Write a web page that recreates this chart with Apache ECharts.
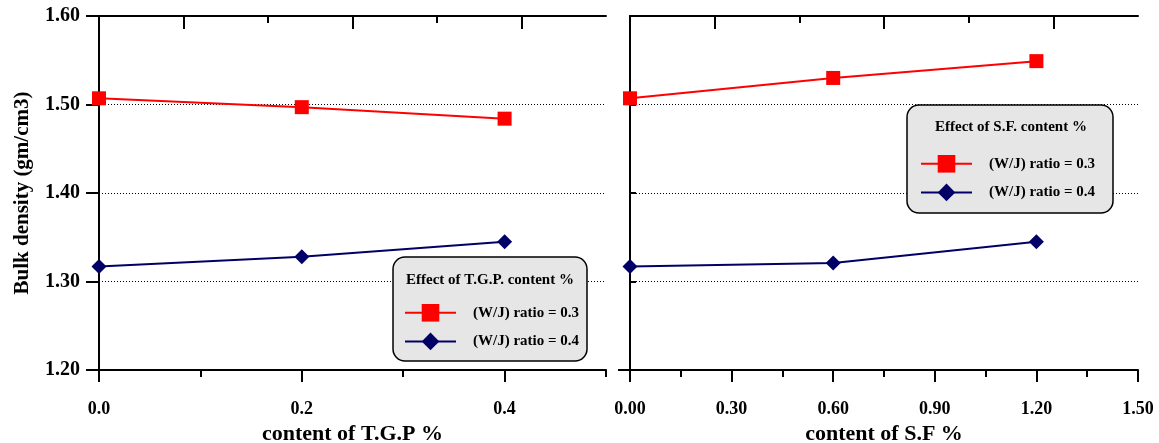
<!DOCTYPE html>
<html>
<head>
<meta charset="utf-8">
<script src="https://cdn.jsdelivr.net/npm/echarts@6/dist/echarts.min.js"></script>
<style>html,body{margin:0;padding:0;background:#fff}#c{width:1159px;height:443px}</style>
</head>
<body>
<div id="c"></div>
<script>
// ---- data ----
var tgpX = [0, 0.2, 0.4];
var tgpW03 = [1.507, 1.497, 1.484];
var tgpW04 = [1.317, 1.328, 1.345];
var sfX = [0, 0.6, 1.2];
var sfW03 = [1.507, 1.530, 1.549];
var sfW04 = [1.317, 1.321, 1.345];
var seriesNames = ['(W/J) ratio = 0.3', '(W/J) ratio = 0.4'];
var tgpMajor = [0, 0.2, 0.4];
var tgpMinor = [0.1, 0.3, 0.5];
var sfMajor = [0, 0.3, 0.6, 0.9, 1.2, 1.5];
var sfMinor = [0.15, 0.45, 0.75, 1.05, 1.35];
var legendTitles = ['Effect of T.G.P. content %', 'Effect of S.F. content %'];
var xNames = ['content of T.G.P %', 'content of S.F %'];
var yName = 'Bulk density (gm/cm3)';

var FONT = 'Liberation Serif';
var RED = '#ff0000', BLUE = '#000066';

function pairs(xs, ys) { return xs.map(function (x, i) { return [x, ys[i]]; }); }

function panelXAxes(gi, max, major, minor, digits, name) {
  return [
    { gridIndex: gi, type: 'value', position: 'bottom', min: 0, max: max,
      axisLine: { show: true, lineStyle: { color: '#000', width: 2 } },
      axisTick: { show: true, inside: false, length: 12, lineStyle: { color: '#000', width: 2 }, customValues: major },
      axisLabel: { show: true, customValues: major, margin: 30, fontFamily: FONT, fontWeight: 'bold', fontSize: 18, color: '#000',
        formatter: function (v) { return v.toFixed(digits); } },
      splitLine: { show: false },
      name: name, nameLocation: 'middle', nameGap: 52,
      nameTextStyle: { fontFamily: FONT, fontWeight: 'bold', fontSize: 22, color: '#000' } },
    { gridIndex: gi, type: 'value', position: 'bottom', min: 0, max: max,
      axisLine: { show: false },
      axisTick: { show: true, inside: false, length: 7, lineStyle: { color: '#000', width: 2 }, customValues: minor },
      axisLabel: { show: false }, splitLine: { show: false } },
    { gridIndex: gi, type: 'value', position: 'top', min: 0, max: 6,
      axisLine: { show: true, lineStyle: { color: '#000', width: 2 } },
      axisTick: { show: true, inside: true, length: 13, lineStyle: { color: '#000', width: 2 }, customValues: [1, 3, 5] },
      axisLabel: { show: false }, splitLine: { show: false } },
    { gridIndex: gi, type: 'value', position: 'top', min: 0, max: 6,
      axisLine: { show: false },
      axisTick: { show: true, inside: true, length: 7, lineStyle: { color: '#000', width: 2 }, customValues: [2, 4] },
      axisLabel: { show: false }, splitLine: { show: false } }
  ];
}

var dotted = { show: true, lineStyle: { color: '#000', width: 1, type: [1, 2] } };

var yAxes = [
  { gridIndex: 0, type: 'value', position: 'left', min: 1.2, max: 1.6, interval: 0.1,
    axisLine: { show: true, lineStyle: { color: '#000', width: 2 } },
    axisTick: { show: true, inside: false, length: 13, lineStyle: { color: '#000', width: 2 } },
    axisLabel: { show: true, margin: 19, fontFamily: FONT, fontWeight: 'bold', fontSize: 20, color: '#000',
      formatter: function (v) { return v.toFixed(2); } },
    splitLine: dotted,
    name: yName, nameLocation: 'middle', nameGap: 66, nameRotate: 90,
    nameTextStyle: { fontFamily: FONT, fontWeight: 'bold', fontSize: 21, color: '#000' } },
  { gridIndex: 0, type: 'value', position: 'right', min: 1.2, max: 1.6, interval: 0.1,
    axisLine: { show: true, lineStyle: { color: '#000', width: 2 } },
    axisTick: { show: true, inside: true, length: 8, lineStyle: { color: '#000', width: 2 } },
    axisLabel: { show: false }, splitLine: { show: false } },
  { gridIndex: 1, type: 'value', position: 'left', min: 1.2, max: 1.6, interval: 0.1,
    axisLine: { show: true, lineStyle: { color: '#000', width: 2 } },
    axisTick: { show: true, inside: false, length: 12, lineStyle: { color: '#000', width: 2 }, customValues: [1.2] },
    axisLabel: { show: false },
    splitLine: { show: false } },
  { gridIndex: 1, type: 'value', position: 'right', min: 1.2, max: 1.6, interval: 0.1,
    axisLine: { show: true, lineStyle: { color: '#000', width: 2 } },
    axisTick: { show: true, inside: false, length: 6, lineStyle: { color: '#000', width: 2 } },
    axisLabel: { show: false }, splitLine: dotted }
];

function mkSeries(name, xi, yi, data, color, symbol, size) {
  return { name: name, type: 'line', xAxisIndex: xi, yAxisIndex: yi, data: data,
    symbol: symbol, symbolSize: size, showSymbol: true,
    lineStyle: { color: color, width: 2 }, itemStyle: { color: color }, z: 3, animation: false };
}

function legendCfg(left, top) {
  return { left: left, top: top, orient: 'vertical', padding: 0, itemGap: 11,
    itemWidth: 51, itemHeight: 22, z: 20, selectedMode: false, data: seriesNames,
    textStyle: { fontFamily: FONT, fontWeight: 'bold', fontSize: 15, color: '#000', padding: [0, 0, 0, 12] } };
}

var option = {
  animation: false,
  backgroundColor: '#fff',
  grid: [
    { left: 99, right: 1159 - 606, top: 16, bottom: 443 - 370, outerBoundsMode: 'none', containLabel: false },
    { left: 630, right: 1159 - 1138, top: 16, bottom: 443 - 370, outerBoundsMode: 'none', containLabel: false }
  ],
  xAxis: panelXAxes(0, 0.5, tgpMajor, tgpMinor, 1, xNames[0]).concat(panelXAxes(1, 1.5, sfMajor, sfMinor, 2, xNames[1])),
  yAxis: yAxes,
  legend: [legendCfg(404, 304), legendCfg(920, 155)],
  graphic: [
    { type: 'rect', z: 10, shape: { x: 393, y: 257, width: 194, height: 104, r: 12 },
      style: { fill: '#e6e6e6', stroke: '#000', lineWidth: 1.5 } },
    { type: 'text', z: 11, x: 490, y: 280,
      style: { text: legendTitles[0], fill: '#000', font: 'bold 15px "Liberation Serif"', textAlign: 'center', textVerticalAlign: 'middle' } },
    { type: 'rect', z: 10, shape: { x: 907, y: 105, width: 206, height: 108, r: 12 },
      style: { fill: '#e6e6e6', stroke: '#000', lineWidth: 1.5 } },
    { type: 'text', z: 11, x: 1011, y: 127,
      style: { text: legendTitles[1], fill: '#000', font: 'bold 15px "Liberation Serif"', textAlign: 'center', textVerticalAlign: 'middle' } }
  ],
  series: [
    mkSeries(seriesNames[0], 0, 0, pairs(tgpX, tgpW03), RED, 'rect', 14),
    mkSeries(seriesNames[1], 0, 0, pairs(tgpX, tgpW04), BLUE, 'diamond', 15),
    mkSeries(seriesNames[0], 4, 2, pairs(sfX, sfW03), RED, 'rect', 14),
    mkSeries(seriesNames[1], 4, 2, pairs(sfX, sfW04), BLUE, 'diamond', 15)
  ]
};

var chart = echarts.init(document.getElementById('c'), null, { renderer: 'canvas' });
chart.setOption(option);
</script>
</body>
</html>
